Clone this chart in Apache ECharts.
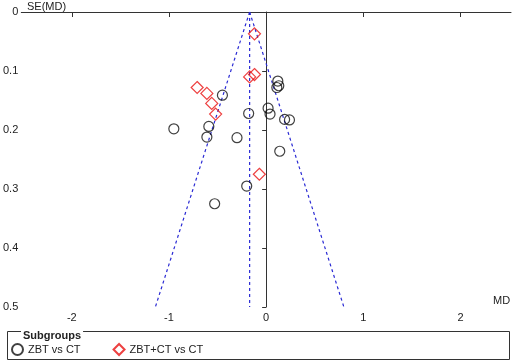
<!DOCTYPE html>
<html>
<head>
    <meta charset="utf-8">
    <title>Funnel plot</title>
    <script src="https://cdn.jsdelivr.net/npm/echarts@6/dist/echarts.min.js"></script>
    <style>
        html, body { margin: 0; padding: 0; background: #fff; }
    </style>
</head>
<body>
    <div id="chart" style="width: 512px; height: 363px;"></div>
    <script>
        // [MD, SE(MD)]
        const zbtVsCt = [
            [0.12, 0.117], [0.13, 0.125], [0.11, 0.128], [-0.45, 0.141],
            [-0.18, 0.172], [0.02, 0.163], [0.04, 0.173], [0.19, 0.182],
            [0.24, 0.183], [-0.95, 0.198], [-0.59, 0.194], [-0.61, 0.212],
            [-0.30, 0.213], [0.14, 0.236], [-0.20, 0.295], [-0.53, 0.325]
        ];
        const zbtCtVsCt = [
            [-0.12, 0.037], [-0.17, 0.110], [-0.12, 0.106], [-0.71, 0.128],
            [-0.61, 0.138], [-0.56, 0.155], [-0.52, 0.173], [-0.07, 0.275]
        ];
        // pooled estimate and the 95% funnel limits at SE = 0.5
        const pooledLine = [[-0.17, 0], [-0.17, 0.5]];
        const funnelLeft = [[-0.17, 0], [-1.14, 0.5]];
        const funnelRight = [[-0.17, 0], [0.80, 0.5]];
        const xTicks = [-2, -1, 0, 1, 2];
        const seriesNames = ['ZBT vs CT', 'ZBT+CT vs CT'];

        const font = 'Liberation Sans, Arial, sans-serif';
        const axisColor = '#333';
        const dashBlue = {
            color: '#2a2ad4',
            width: 1.2,
            type: [3, 3]
        };

        function dashLine(data) {
            return {
                type: 'line',
                data: data,
                symbol: 'none',
                silent: true,
                lineStyle: dashBlue,
                z: 1
            };
        }

        const option = {
            animation: false,
            backgroundColor: '#fff',
            textStyle: { fontFamily: font },
            grid: { left: 21, top: 12, width: 490, height: 295 },
            xAxis: {
                type: 'value',
                min: -2.52,
                max: 2.52,
                splitLine: { show: false },
                axisLine: { lineStyle: { color: axisColor, width: 1 } },
                axisTick: { customValues: xTicks, length: 5, lineStyle: { color: axisColor } },
                axisLabel: { customValues: xTicks, color: '#222', fontSize: 11, margin: 5 }
            },
            yAxis: {
                type: 'value',
                inverse: true,
                min: 0,
                max: 0.5,
                interval: 0.1,
                splitLine: { show: false },
                axisLine: { show: true, lineStyle: { color: axisColor, width: 1 } },
                axisTick: { show: true, length: 4, lineStyle: { color: axisColor } },
                axisLabel: { color: '#222', fontSize: 11, margin: 3 }
            },
            legend: {
                left: 6,
                top: 338,
                itemGap: 32,
                itemWidth: 11,
                itemHeight: 11,
                textStyle: { fontSize: 11, color: '#222', fontFamily: font },
                data: seriesNames
            },
            graphic: [
                {
                    type: 'text',
                    left: 27,
                    top: 1,
                    style: { text: 'SE(MD)', fill: '#222', font: '11px ' + font }
                },
                {
                    type: 'text',
                    left: 493,
                    top: 295,
                    style: { text: 'MD', fill: '#222', font: '11px ' + font }
                },
                {
                    type: 'rect',
                    shape: { x: 7.5, y: 331.5, width: 502, height: 28 },
                    style: { fill: 'none', stroke: axisColor, lineWidth: 1 }
                },
                {
                    type: 'text',
                    left: 21,
                    top: 330,
                    z: 10,
                    style: {
                        text: 'Subgroups',
                        font: 'bold 11px ' + font,
                        fill: '#222',
                        backgroundColor: '#fff',
                        padding: [0, 2]
                    }
                }
            ],
            series: [
                dashLine(pooledLine),
                dashLine(funnelLeft),
                dashLine(funnelRight),
                {
                    name: seriesNames[0],
                    type: 'scatter',
                    data: zbtVsCt,
                    symbol: 'circle',
                    symbolSize: 10,
                    itemStyle: { color: 'rgba(0,0,0,0)', borderColor: '#111', borderWidth: 1.2 },
                    z: 3
                },
                {
                    name: seriesNames[1],
                    type: 'scatter',
                    data: zbtCtVsCt,
                    symbol: 'diamond',
                    symbolSize: 12,
                    itemStyle: { color: 'rgba(0,0,0,0)', borderColor: '#e81010', borderWidth: 1.2 },
                    z: 4
                }
            ]
        };

        const myChart = echarts.init(document.getElementById('chart'));
        myChart.setOption(option);
    </script>
</body>
</html>
